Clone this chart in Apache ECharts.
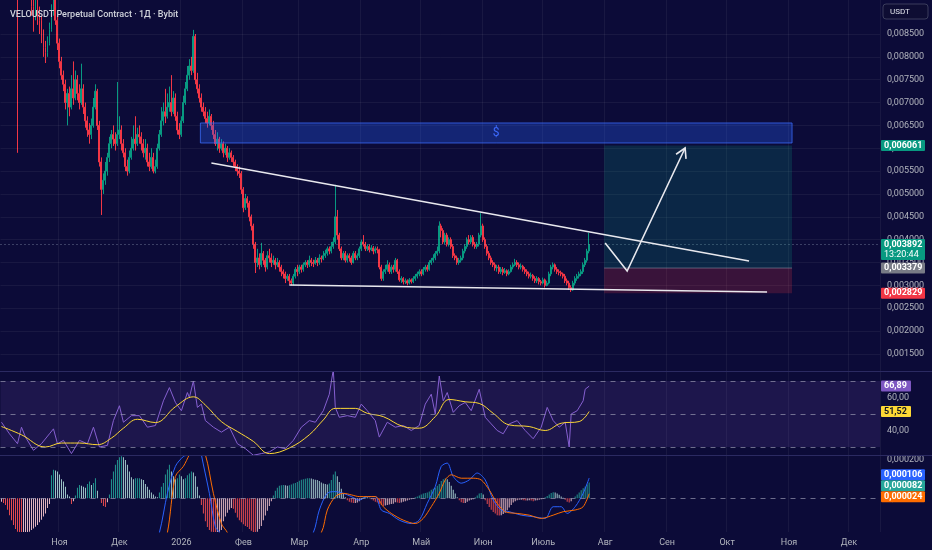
<!DOCTYPE html>
<html><head><meta charset="utf-8">
<script src="https://cdn.jsdelivr.net/npm/echarts@6/dist/echarts.min.js"></script>
<style>html,body{margin:0;padding:0;background:#0c0b38;}#c{width:932px;height:550px;}</style>
</head><body><div id="c"></div>
<script>
// ---------- DATA (prices in micro-USDT, 1e-6) ----------
const startDate = '2025-10-03';
const dayCount = 440;
const monthTickDates = ['2025-11-01','2025-12-01','2026-01-01','2026-02-01','2026-03-01','2026-04-01','2026-05-01','2026-06-01','2026-07-01','2026-08-01','2026-09-01','2026-10-01','2026-11-01','2026-12-01'];
const monthTickLabels = ['Ноя','Дек','2026','Фев','Мар','Апр','Май','Июн','Июль','Авг','Сен','Окт','Ноя','Дек'];
const priceTicks = [1500,2000,2500,3000,3500,4000,4500,5000,5500,6000,6500,7000,7500,8000,8500];
const rsiTicks = [40,60];
const macdTicks = [0,200];
// [open, close, low, high]
const candles = [
[10300,10200,9950,10500],[10200,10000,9800,10350],[10000,10400,9900,10600],[10400,10100,9950,10500],[10100,9900,9700,10250],
[9900,10300,9850,10450],[10300,10000,9800,10400],[10000,9800,9600,10200],[9800,9700,5900,10000],[9700,9600,9300,9900],
[9600,9800,9450,10000],[9800,9500,9350,9900],[9500,9700,9400,9850],[9700,9400,9250,9800],[9400,9600,9300,9750],
[9600,9100,8900,9700],[9100,8900,8550,9300],[8900,9200,8800,9400],[9200,9000,8700,9350],[9000,8800,8500,9100],
[8800,8500,8300,8900],[8500,8200,8000,8600],[8200,8100,7865,8350],[8100,8300,8000,8450],[8300,8600,8250,8750],
[8600,9000,8550,9150],[9000,9300,8900,9500],[9300,8800,8700,9400],[8800,8300,8150,8900],[8300,7900,7750,8400],
[7900,7600,7500,8000],[7600,7400,7250,7700],[7400,7000,6850,7500],[7000,7200,6500,7300],[7200,6900,6700,7350],
[6900,7300,6850,7600],[7300,7100,6950,7900],[7100,7500,7050,7700],[7500,7200,7050,7600],[7200,7000,6850,7400],
[7000,7300,6950,7850],[7300,6900,6750,7400],[6900,6600,6450,7000],[6600,6400,6250,6700],[6400,6300,6100,6550],
[6300,6500,6200,6650],[6500,6900,6450,7100],[6900,7250,6850,7400],[7250,6500,6400,7300],[6500,5700,5600,6600],
[5700,5100,4540,5800],[5100,5300,5000,5450],[5300,5500,5200,5700],[5500,5800,5400,5900],[5800,6100,5700,6250],
[6100,6300,6000,6400],[6300,6200,6050,6500],[6200,6100,5950,6350],[6100,6300,6050,7450],[6300,6400,6200,6700],
[6400,6100,5950,6500],[6100,5900,5800,6200],[5900,5600,5500,6000],[5600,5500,5400,5750],[5500,5800,5450,5950],
[5800,6000,5750,6250],[6000,6200,5950,6500],[6200,6100,5950,6700],[6100,6300,6050,6450],[6300,6250,6100,6500],
[6250,6100,5950,6350],[6100,5900,5800,6200],[5900,6000,5750,6200],[6000,5700,5600,6100],[5700,5600,5500,5900],
[5600,5800,5550,6000],[5800,5500,5450,5900],[5500,5600,5450,5750],[5600,6000,5550,6100],[6000,6300,5950,6400],
[6300,6600,6250,6900],[6600,6800,6500,7000],[6800,6700,6550,7300],[6700,6900,6650,7200],[6900,7000,6800,7350],
[7000,6800,6700,7600],[6800,7100,6750,7250],[7100,6700,6600,7200],[6700,6400,6300,6800],[6400,6300,6200,6550],
[6300,6600,6250,6700],[6600,7000,6550,7150],[7000,7300,6950,7450],[7300,7600,7250,7800],[7600,7800,7500,7950],
[7800,7700,7600,8000],[7700,8450,7650,8590],[8450,7500,7400,8500],[7500,7300,7200,7650],[7300,7100,7000,7400],
[7100,6900,6800,7200],[6900,6800,6700,7000],[6800,6650,6550,6900],[6650,6550,6450,6800],[6550,6700,6500,6850],
[6700,6500,6400,6750],[6500,6300,6200,6600],[6300,6100,6050,6400],[6100,6200,5950,6350],[6200,6000,5900,6250],
[6000,6100,5950,6200],[6100,5900,5800,6150],[5900,6000,5850,6100],[6000,5800,5700,6050],[5800,5900,5750,6000],
[5900,5800,5700,5950],[5800,5700,5600,5850],[5700,5600,5500,5750],[5600,5500,5400,5650],[5500,5450,5350,5600],
[5450,5100,5000,5500],[5100,4700,4600,5150],[4700,4900,4650,5000],[4900,4800,4700,4950],[4800,4500,4400,4850],
[4500,4300,4200,4550],[4300,3900,3800,4350],[3900,3500,3270,3950],[3500,3600,3400,3800],[3600,3450,3350,3700],
[3450,3700,3400,3930],[3700,3550,3450,3750],[3550,3400,3300,3600],[3400,3650,3350,3750],[3650,3600,3500,3800],
[3600,3500,3400,3700],[3500,3550,3450,3650],[3550,3450,3350,3600],[3450,3500,3400,3600],[3500,3400,3300,3550],
[3400,3300,3200,3450],[3300,3250,3150,3350],[3250,3150,3050,3300],[3150,3200,3100,3250],[3200,3100,3020,3250],
[3100,3050,3000,3150],[3050,3200,3000,3250],[3200,3350,3150,3400],[3350,3300,3200,3450],[3300,3400,3250,3450],
[3400,3350,3280,3450],[3350,3450,3300,3500],[3450,3500,3400,3550],[3500,3450,3380,3550],[3450,3550,3400,3650],
[3550,3500,3420,3600],[3500,3480,3400,3560],[3480,3550,3450,3620],[3550,3500,3420,3600],[3500,3600,3450,3680],
[3600,3580,3500,3650],[3580,3650,3550,3750],[3650,3700,3600,3780],[3700,3800,3650,3850],[3800,3750,3680,3850],
[3750,3850,3700,3950],[3850,3950,3800,4050],[3950,4500,3900,5200],[4500,4100,4000,4650],[4100,3800,3750,4150],
[3800,3600,3550,3850],[3600,3700,3550,3750],[3700,3550,3500,3750],[3550,3650,3500,3700],[3650,3600,3520,3700],
[3600,3500,3450,3650],[3500,3700,3480,3750],[3700,3600,3550,3750],[3600,3650,3550,3700],[3650,3800,3600,3850],
[3800,3950,3750,4000],[3950,3900,3850,4100],[3900,3800,3750,3950],[3800,3850,3750,3900],[3850,3780,3720,3900],
[3780,3820,3750,3880],[3820,3750,3680,3860],[3750,3800,3700,3850],[3800,3780,3700,3850],[3780,3400,3350,3800],
[3400,3150,3100,3450],[3150,3300,3100,3350],[3300,3350,3250,3450],[3350,3450,3300,3550],[3450,3300,3250,3500],
[3300,3400,3250,3450],[3400,3350,3280,3450],[3350,3550,3300,3600],[3550,3300,3250,3580],[3300,3120,3080,3350],
[3120,3150,3050,3200],[3150,3080,3020,3180],[3080,3100,3030,3150],[3100,3050,3000,3130],[3050,3120,3020,3160],
[3120,3080,3040,3150],[3080,3150,3050,3200],[3150,3200,3100,3250],[3200,3250,3150,3300],[3250,3300,3200,3350],
[3300,3250,3200,3350],[3250,3350,3220,3400],[3350,3400,3300,3450],[3400,3350,3300,3450],[3350,3500,3320,3550],
[3500,3550,3450,3600],[3550,3600,3500,3680],[3600,3700,3550,3750],[3700,3750,3650,3850],[3750,4300,3700,4400],
[4300,4200,4050,4350],[4200,3950,3900,4250],[3950,4100,3900,4150],[4100,3900,3850,4150],[3900,4000,3850,4050],
[4000,3850,3800,4050],[3850,3650,3600,3900],[3650,3600,3550,3700],[3600,3500,3450,3650],[3500,3550,3450,3600],
[3550,3600,3500,3650],[3600,3750,3550,3800],[3750,3850,3700,3900],[3850,4000,3800,4050],[4000,3950,3900,4100],
[3950,4050,3900,4100],[4050,3900,3850,4100],[3900,3850,3800,3950],[3850,3900,3800,3950],[3900,4100,3850,4150],
[4100,4300,4050,4580],[4300,4000,3950,4350],[4000,3850,3800,4050],[3850,3700,3650,3900],[3700,3600,3550,3750],
[3600,3500,3450,3650],[3500,3450,3400,3550],[3450,3380,3320,3500],[3380,3400,3300,3450],[3400,3300,3250,3450],
[3300,3350,3250,3400],[3350,3280,3220,3400],[3280,3320,3250,3380],[3320,3250,3200,3350],[3250,3300,3220,3350],
[3300,3400,3280,3450],[3400,3450,3350,3500],[3450,3500,3420,3580],[3500,3450,3400,3550],[3450,3400,3350,3500],
[3400,3420,3350,3480],[3420,3350,3300,3450],[3350,3300,3250,3400],[3300,3250,3200,3350],[3250,3200,3150,3300],
[3200,3220,3150,3280],[3220,3150,3100,3250],[3150,3100,3050,3200],[3100,3150,3050,3200],[3150,3080,3020,3180],
[3080,3050,3000,3120],[3050,3120,3020,3170],[3120,3000,2950,3150],[3000,3050,2980,3100],[3050,3250,3020,3300],
[3250,3400,3200,3450],[3400,3450,3350,3500],[3450,3350,3300,3480],[3350,3300,3250,3400],[3300,3280,3220,3350],
[3280,3250,3200,3320],[3250,3200,3150,3280],[3200,3100,3050,3250],[3100,3050,3000,3150],[3050,2950,2900,3100],
[2950,2900,2855,3000],[2900,3050,2880,3100],[3050,3150,3000,3200],[3150,3200,3100,3250],[3200,3250,3150,3300],
[3250,3300,3200,3350],[3300,3450,3250,3500],[3450,3550,3400,3600],[3550,3750,3500,3800],[3750,3892,3700,4150]
];
// RSI(14) readings [dayIndex, value]
const rsiPoints = [[0,45],[4,38],[8,32],[10,42],[12,36],[16,28],[20,32],[24,38],[26,41],[28,32],[31,34],[35,26],[39,34],[43,32],[46,42],[49,30],[53,31],[56,46],[59,55],[61,45],[65,49],[69,49],[73,42],[77,43],[81,58],[84,66],[87,57],[90,52],[93,63],[94,60],[96,70],[98,54],[100,56],[102,46],[106,42],[110,39],[114,42],[118,32],[122,29],[126,25],[130,26],[134,27],[138,30],[142,29],[146,34],[150,42],[154,46],[157,45],[161,52],[164,62],[166,77],[167,54],[169,48],[173,49],[177,48],[180,56],[183,52],[187,46],[189,36],[193,45],[197,42],[201,43],[205,40],[209,43],[212,56],[215,62],[217,50],[219,73],[221,58],[223,63],[226,51],[229,55],[232,57],[235,52],[239,65],[242,48],[245,44],[248,40],[251,38],[254,44],[258,46],[262,40],[266,35],[270,42],[273,54],[276,46],[279,42],[282,45],[284,30],[285,50],[288,52],[291,58],[292,65],[294,66.89]];
const rsiMaPoints = [[0,42.4],[10,37.4],[22,30],[30,32.4],[39,32.4],[48,31.4],[55,35.4],[61,41.4],[68,46.8],[77,44.8],[87,54.4],[96,60.4],[102,55.4],[110,45.4],[118,39.4],[126,33.4],[134,26],[144,29.4],[154,37.4],[161,46.4],[167,53.4],[177,53.4],[183,50.4],[191,48.4],[201,42.4],[209,41.4],[217,48.4],[224,58.8],[232,57.4],[239,56.4],[246,50.4],[254,43.4],[264,42.4],[272,40],[280,44.4],[289,45.4],[294,51.52]];
// MACD (micro-USDT)
const macdPoints = [[0,-700],[20,-600],[40,-500],[60,-400],[75,-280],[79,-179],[83,26],[87,167],[91,219],[93,228],[96,320],[99,300],[100,228],[104,26],[107,-149],[109,-179],[115,-380],[125,-500],[140,-400],[150,-260],[156,-179],[159,-61],[163,26],[167,35],[171,26],[175,9],[179,-9],[183,9],[187,9],[190,-61],[194,-79],[199,-114],[205,-132],[209,-114],[213,-26],[217,61],[220,167],[223,184],[226,114],[230,79],[234,96],[238,132],[242,96],[246,-9],[250,-61],[254,-70],[260,-88],[266,-96],[272,-105],[276,-44],[280,-44],[283,-79],[287,-44],[291,26],[294,106]];
const signalPoints = [[0,-650],[30,-580],[60,-450],[80,-250],[83,-179],[87,114],[91,167],[94,228],[98,300],[102,228],[106,26],[110,-132],[113,-179],[120,-350],[135,-430],[150,-300],[160,-179],[163,-61],[167,9],[171,26],[175,18],[179,9],[187,9],[191,-44],[195,-79],[201,-114],[207,-132],[211,-105],[215,-44],[219,26],[222,96],[225,123],[230,105],[236,105],[240,96],[244,44],[248,-26],[252,-70],[258,-79],[264,-88],[270,-105],[276,-88],[281,-70],[287,-61],[291,-44],[294,24]];
const macdHist = [-18,-25,-35,-60,-88,-115,-140,-160,-175,-178,-179,-179,-179,-177,-175,-165,-158,-148,-140,-125,
-112,-95,-79,-50,-30,120,149,145,140,125,100,88,60,20,10,-30,-15,15,55,70,
65,60,55,75,88,70,80,105,40,0,-25,-40,-45,-20,20,100,140,175,200,215,
220,215,200,175,140,110,100,105,105,105,100,95,75,60,45,30,20,10,5,30,
60,80,125,150,175,140,115,100,105,125,115,100,105,120,130,140,135,115,60,15,
-35,-80,-120,-150,-165,-175,-178,-179,-179,-175,-165,-120,-95,-75,-60,-50,-55,-75,-100,-115,
-125,-135,-145,-150,-160,-170,-178,-179,-175,-160,-145,-115,-90,-65,-40,-15,15,40,55,65,
68,70,68,65,68,72,78,80,85,92,97,100,102,105,105,103,100,97,95,90,
82,78,75,72,78,95,125,140,115,85,50,25,5,-10,-18,-22,-25,-25,-22,-15,
-8,5,8,5,3,-5,-12,-18,-22,-28,-35,-40,-38,-35,-33,-30,-28,-20,-22,-25,
-22,-18,-15,-12,-8,-5,-3,5,10,15,20,25,28,30,35,45,50,55,65,75,
90,100,105,100,85,65,45,25,5,-10,-20,-25,-25,-18,-12,-8,-5,5,15,25,
28,20,-10,-30,-45,-60,-72,-80,-88,-90,-88,-82,-75,-62,-48,-35,-22,-15,-10,-8,
-8,-10,-12,-12,-10,-12,-15,-12,-10,-8,-5,-3,5,12,20,28,32,30,25,18,
10,3,-8,-18,-22,-15,2,10,20,30,42,52,62,72,82];
// Drawings (data coordinates: date, micro-USDT)
const trendLine = [['2026-01-16',5677],['2026-10-12',3533]];
const supportLine = [['2026-02-24',3008],['2026-10-21',2855]];
const supplyZone = {from:'2026-01-11', to:'2026-11-02', top:6553, bottom:6115, label:'$'};
const longPosition = {from:'2026-08-01', to:'2026-11-02', target:6061, entry:3379, stop:2829};
const arrowPath = [['2026-08-01',3927],['2026-08-12',3314],['2026-09-10',6006]];
const lastPrice = 3892;
const countdownText = '13:20:44';
const rsiLast = 66.89, rsiMaLast = 51.52;
const macdLast = 106, histLast = 82, signalLast = 24;
const titleText = 'VELOUSDT Perpetual Contract · 1Д · Bybit';

// ---------- BUILD ----------
const dates = [];
{ const d0 = new Date(startDate + 'T00:00:00Z');
  for (let i = 0; i < dayCount; i++) { const d = new Date(d0.getTime() + i*86400000); dates.push(d.toISOString().slice(0,10)); } }
const tickMap = {}; monthTickDates.forEach((d,i)=>tickMap[d]=monthTickLabels[i]);
const isTick = (idx, val) => tickMap[val] !== undefined;
const fmtP = v => (v/1e6).toFixed(6).replace('.', ',');
const fmt2 = v => v.toFixed(2).replace('.', ',');

const UP = '#089981', DOWN = '#f23645';
const TXT = '#b2b5be';
const GRIDC = 'rgba(255,255,255,0.055)';
const L = 0.5, R = 52;

const histData = macdHist.map((v,i)=>{
  const p = i>0 ? macdHist[i-1] : v;
  let c;
  if (v >= 0) c = v >= p ? '#26a69a' : '#b2dfdb'; else c = v < p ? '#ff5252' : '#ffcdd2';
  return {value: v, itemStyle: {color: c}};
});

function xAxisCfg(i, showLabel){
  return {type:'category', gridIndex:i, data:dates, boundaryGap:true,
    axisLine:{show:false}, axisTick:{show:false},
    axisLabel:{show:showLabel, interval:isTick, formatter:v=>tickMap[v]||'', color:TXT, fontSize:9, margin:6, fontFamily:'Roboto'},
    splitLine:{show:true, interval:isTick, lineStyle:{color:GRIDC, width:1}}};
}

const option = {
  backgroundColor:'#0c0b38',
  animation:false,
  title:{text:titleText, left:5, top:5, textStyle:{color:'#d1d4dc', fontSize:9, fontWeight:500, fontFamily:'Roboto'}},
  grid:[
    {left:L, right:R, top:0, height:372},
    {left:L, right:R, top:372, height:83},
    {left:L, right:R, top:456, height:76}
  ],
  xAxis:[xAxisCfg(0,false), xAxisCfg(1,false), xAxisCfg(2,true)],
  yAxis:[
    {type:'value', gridIndex:0, position:'right', min:1104, max:9244, scale:true,
     axisLine:{show:false}, axisTick:{show:false, customValues:priceTicks}, splitLine:{show:false},
     axisLabel:{customValues:priceTicks, formatter:fmtP, color:TXT, fontSize:9, margin:7, fontFamily:'Roboto'}},
    {type:'value', gridIndex:1, position:'right', min:25.15, max:75.45,
     axisLine:{show:false}, axisTick:{show:false, customValues:rsiTicks}, splitLine:{show:false},
     axisLabel:{customValues:rsiTicks, formatter:fmt2, color:TXT, fontSize:9, margin:7, fontFamily:'Roboto'}},
    {type:'value', gridIndex:2, position:'right', min:-176, max:221,
     axisLine:{show:false}, axisTick:{show:false, customValues:macdTicks}, splitLine:{show:false},
     axisLabel:{customValues:macdTicks, formatter:fmtP, color:TXT, fontSize:9, margin:7, fontFamily:'Roboto'}}
  ],
  series:[
    {type:'candlestick', xAxisIndex:0, yAxisIndex:0, data:candles, barWidth:'72%', clip:true,
     itemStyle:{color:UP, color0:DOWN, borderColor:UP, borderColor0:DOWN, borderWidth:1},
     markLine:{silent:true, symbol:['none','none'], label:{show:false}, animation:false,
       data: priceTicks.map(v=>({yAxis:v, lineStyle:{color:GRIDC, type:'solid', width:1}}))
         .concat([{yAxis:lastPrice, lineStyle:{color:'rgba(150,160,185,0.7)', type:[1,3], width:1}}])}
    },
    {type:'line', xAxisIndex:1, yAxisIndex:1, data:rsiPoints, showSymbol:false, lineStyle:{color:'#8660d0', width:1}, z:3,
     markArea:{silent:true, itemStyle:{color:'rgba(126,87,194,0.15)'}, data:[[{yAxis:30},{yAxis:70}]]},
     markLine:{silent:true, symbol:['none','none'], label:{show:false},
       lineStyle:{color:'rgba(150,150,175,0.7)', type:[5,5], width:1}, data:[{yAxis:70},{yAxis:50},{yAxis:30}]}},
    {type:'line', xAxisIndex:1, yAxisIndex:1, data:rsiMaPoints, showSymbol:false, smooth:0.4, lineStyle:{color:'#fdd835', width:1}, z:4},
    {type:'bar', xAxisIndex:2, yAxisIndex:2, data:histData, barWidth:1, z:2, itemStyle:{opacity:0.9},
     markLine:{silent:true, symbol:['none','none'], label:{show:false},
       lineStyle:{color:'rgba(150,150,175,0.7)', type:[5,5], width:1}, data:[{yAxis:0}]}},
    {type:'line', xAxisIndex:2, yAxisIndex:2, data:macdPoints, showSymbol:false, smooth:0.3, lineStyle:{color:'#2962ff', width:1}, z:4},
    {type:'line', xAxisIndex:2, yAxisIndex:2, data:signalPoints, showSymbol:false, smooth:0.3, lineStyle:{color:'#ff6d00', width:1}, z:4}
  ]
};

const chart = echarts.init(document.getElementById('c'));
chart.setOption(option);

const P = (d,v) => chart.convertToPixel({gridIndex:0}, [d, v]);
const Y = (axis, v) => chart.convertToPixel({yAxisIndex:axis}, v);
const g = [];
const W = '#e8e8ee';
// supply zone
{ const a = P(supplyZone.from, supplyZone.top), b = P(supplyZone.to, supplyZone.bottom);
  g.push({type:'rect', z:50, shape:{x:a[0]-1, y:a[1], width:b[0]-a[0]+2, height:b[1]-a[1]},
    style:{fill:'rgba(41,98,255,0.30)', stroke:'rgba(60,110,255,0.75)', lineWidth:1}});
  g.push({type:'text', z:51, style:{text:supplyZone.label, x:(a[0]+b[0])/2, y:(a[1]+b[1])/2, fill:'#3d6bff', fontSize:12, fontFamily:'Roboto', align:'center', verticalAlign:'middle'}});
}
// long position
{ const a = P(longPosition.from, longPosition.target), e = P(longPosition.to, longPosition.entry), s = P(longPosition.to, longPosition.stop);
  g.push({type:'rect', z:40, shape:{x:a[0]-1, y:a[1], width:e[0]-a[0]+2, height:e[1]-a[1]}, style:{fill:'rgba(8,153,129,0.20)'}});
  g.push({type:'rect', z:40, shape:{x:a[0]-1, y:e[1], width:e[0]-a[0]+2, height:s[1]-e[1]}, style:{fill:'rgba(242,54,69,0.20)'}});
  g.push({type:'line', z:41, shape:{x1:a[0]-1, y1:e[1], x2:e[0]+1, y2:e[1]}, style:{stroke:'rgba(140,140,160,0.6)', lineWidth:1}});
}
// lines
[trendLine, supportLine].forEach(l=>{
  const a = P(l[0][0], l[0][1]), b = P(l[1][0], l[1][1]);
  g.push({type:'line', z:60, shape:{x1:a[0], y1:a[1], x2:b[0], y2:b[1]}, style:{stroke:W, lineWidth:1.6}});
});
// arrow
{ const pts = arrowPath.map(p=>P(p[0], p[1]));
  g.push({type:'polyline', z:61, shape:{points:pts}, style:{stroke:W, lineWidth:1.6, fill:null}});
  const t = pts[2], f = pts[1];
  const ang = Math.atan2(t[1]-f[1], t[0]-f[0]);
  const len = 11, sp = Math.PI/6;
  const w1 = [t[0]-len*Math.cos(ang-sp), t[1]-len*Math.sin(ang-sp)];
  const w2 = [t[0]-len*Math.cos(ang+sp), t[1]-len*Math.sin(ang+sp)];
  g.push({type:'polyline', z:61, shape:{points:[w1, t, w2]}, style:{stroke:W, lineWidth:1.6, fill:null}});
}
// separators
[371.5, 455.5].forEach(y=>g.push({type:'line', z:70, shape:{x1:0, y1:y, x2:932, y2:y}, style:{stroke:'#2b2a62', lineWidth:1}}));
// right tags
function tag(y, text, bg, fg, w){
  g.push({type:'rect', z:90, shape:{x:881, y:y-5.5, width:w||44, height:11, r:1}, style:{fill:bg}});
  g.push({type:'text', z:91, style:{text:text, x:884, y:y, fill:fg, fontSize:9, fontWeight:'bold', fontFamily:'Roboto', verticalAlign:'middle'}});
}
tag(Y(0, longPosition.target), fmtP(longPosition.target), '#089981', '#ffffff');
{ const y = Y(0, lastPrice);
  g.push({type:'rect', z:90, shape:{x:881, y:y-5.5, width:44, height:21, r:1}, style:{fill:'#089981'}});
  g.push({type:'text', z:91, style:{text:fmtP(lastPrice), x:884, y:y, fill:'#fff', fontSize:9, fontWeight:'bold', fontFamily:'Roboto', verticalAlign:'middle'}});
  g.push({type:'text', z:91, style:{text:countdownText, x:884, y:y+10, fill:'#fff', fontSize:9, fontFamily:'Roboto', verticalAlign:'middle'}});
}
tag(Y(0, longPosition.entry), fmtP(longPosition.entry), '#787b86', '#ffffff');
tag(Y(0, longPosition.stop), fmtP(longPosition.stop), '#f23645', '#ffffff');
tag(Y(1, rsiLast), fmt2(rsiLast), '#7e57c2', '#ffffff', 30);
tag(Y(1, rsiMaLast), fmt2(rsiMaLast), '#fdd835', '#131722', 30);
{ // MACD tags stacked to avoid overlap
  const items = [[macdLast,'#2962ff'],[histLast,'#26a69a'],[signalLast,'#ff6d00']].map(it=>({v:it[0], c:it[1], y:Y(2, it[0])}));
  items.sort((a,b)=>a.y-b.y);
  for (let i=1;i<items.length;i++) if (items[i].y < items[i-1].y+11) items[i].y = items[i-1].y+11;
  const shift = Math.max(0, items[items.length-1].y - Y(2, signalLast) );
  items.forEach(it=>tag(it.y - shift/2, fmtP(it.v), it.c, '#ffffff'));
}
// USDT box
g.push({type:'rect', z:90, shape:{x:883, y:4, width:45, height:15, r:3}, style:{fill:'#0e0d33', stroke:'#3b3d5c', lineWidth:1}});
g.push({type:'text', z:91, style:{text:'USDT', x:890, y:11.5, fill:'#e0e3eb', fontSize:8, fontFamily:'Roboto', verticalAlign:'middle'}});
chart.setOption({graphic:g});
</script></body></html>
